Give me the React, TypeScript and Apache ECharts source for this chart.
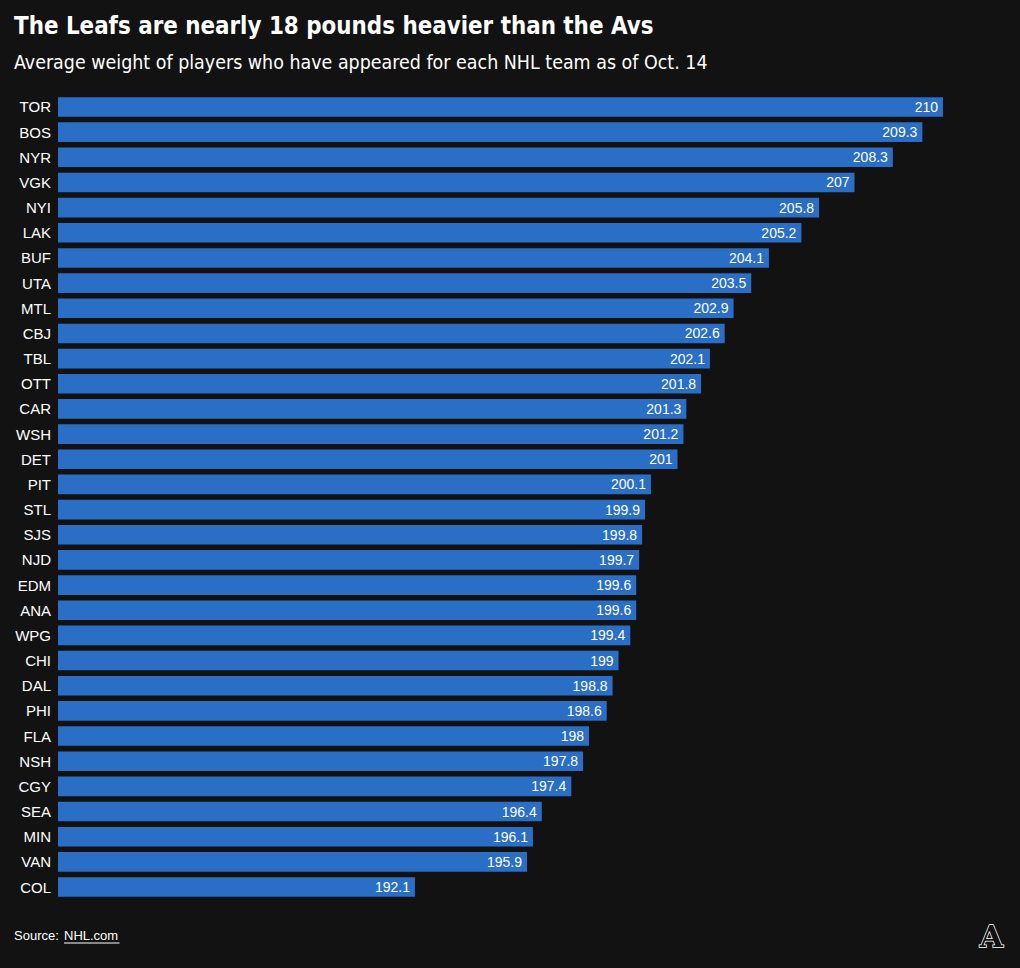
import React, { useEffect, useRef } from "react";
import * as echarts from "echarts";

const teams = ["TOR","BOS","NYR","VGK","NYI","LAK","BUF","UTA","MTL","CBJ","TBL","OTT","CAR","WSH","DET","PIT","STL","SJS","NJD","EDM","ANA","WPG","CHI","DAL","PHI","FLA","NSH","CGY","SEA","MIN","VAN","COL"];
const weights = [210,209.3,208.3,207,205.8,205.2,204.1,203.5,202.9,202.6,202.1,201.8,201.3,201.2,201,200.1,199.9,199.8,199.7,199.6,199.6,199.4,199,198.8,198.6,198,197.8,197.4,196.4,196.1,195.9,192.1];

const titleText = "The Leafs are nearly 18 pounds heavier than the Avs";
const subtitleText = "Average weight of players who have appeared for each NHL team as of Oct. 14";

export default function App() {
  const ref = useRef<HTMLDivElement>(null);
  useEffect(() => {
    const chart = echarts.init(ref.current!, null, { renderer: "svg" });
    chart.setOption({
      animation: false,
      backgroundColor: "#121212",
      grid: { left: 58, right: 77, top: 94.4, bottom: 68.4, containLabel: false },
      xAxis: {
        type: "value",
        min: 180,
        max: 210,
        show: false,
      },
      yAxis: {
        type: "category",
        data: teams,
        inverse: true,
        axisLine: { show: false },
        axisTick: { show: false },
        splitLine: { show: false },
        axisLabel: {
          color: "#ffffff",
          fontSize: 15,
          fontFamily: "Liberation Sans, Arial, sans-serif",
          margin: 7,
        },
      },
      series: [
        {
          type: "bar",
          data: weights,
          barCategoryGap: "22%",
          itemStyle: { color: "#2a6ec6" },
          label: {
            show: true,
            position: "insideRight",
            distance: 5,
            color: "#ffffff",
            fontSize: 14,
            fontFamily: "Liberation Sans, Arial, sans-serif",
          },
        },
      ],
      graphic: [
        {
          type: "text",
          x: 14,
          y: 13,
          scaleX: 0.954,
          style: {
            text: titleText,
            fill: "#ffffff",
            verticalAlign: "top",
            font: "bold 25px 'Liberation Sans Narrow', 'DejaVu Sans Condensed', sans-serif",
          },
        },
        {
          type: "text",
          x: 14,
          y: 52,
          scaleX: 0.972,
          style: {
            text: subtitleText,
            fill: "#ffffff",
            verticalAlign: "top",
            font: "20px 'Liberation Sans Narrow', 'DejaVu Sans Condensed', sans-serif",
          },
        },
        {
          type: "text",
          left: 14,
          top: 929,
          style: {
            text: "Source: ",
            fill: "#ffffff",
            font: "13px 'Liberation Sans', Arial, sans-serif",
          },
        },
        {
          type: "text",
          left: 64,
          top: 929,
          style: {
            text: "NHL.com",
            fill: "#ffffff",
            font: "13px 'Liberation Sans', Arial, sans-serif",
          },
        },
        {
          type: "line",
          shape: { x1: 64, y1: 943, x2: 119.5, y2: 943 },
          style: { stroke: "#ffffff", lineWidth: 1 },
        },
        {
          type: "text",
          left: 979,
          top: 921,
          style: {
            text: "A",
            fill: "#121212",
            stroke: "#ffffff",
            lineWidth: 1.5,
            font: "bold 30px 'DejaVu Serif', serif",
          },
        },
      ],
    });
    return () => chart.dispose();
  }, []);
  return <div ref={ref} style={{ width: 1020, height: 968, position: "absolute", left: 0, top: 0 }} />;
}
